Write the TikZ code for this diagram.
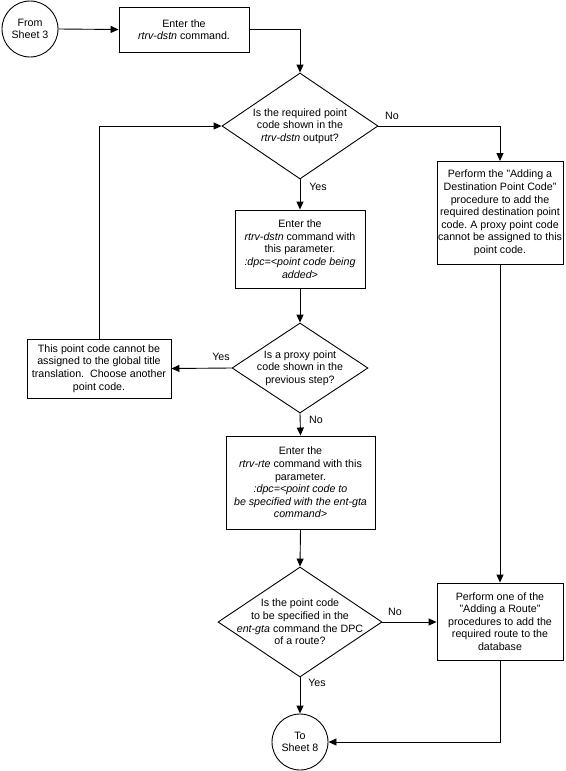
\documentclass[tikz,border=0pt]{standalone}
\usepackage{fontspec}
\setmainfont{Liberation Sans}
\usetikzlibrary{shapes.geometric,arrows.meta}
\frenchspacing
\begin{document}
\begin{tikzpicture}[x=1pt,y=-1pt,
  every node/.style={font=\fontsize{10.67}{12.6}\selectfont},
  box/.style={draw,line width=0.9pt,rectangle,align=center,inner sep=0pt},
  dia/.style={draw,line width=0.9pt,diamond,inner sep=0pt},
  txt/.style={align=center,inner sep=0pt},
  term/.style={draw,line width=0.9pt,circle,align=center,inner sep=0pt,minimum size=56pt},
  lbl/.style={inner sep=0pt},
  conn/.style={line width=0.9pt,-{Triangle[length=8pt,width=7pt]}},
  plain/.style={line width=0.9pt}]
\useasboundingbox (0,0) rectangle (565,771);

\node[term] (c1) at (30,29) {From\\Sheet 3};
\node[box,minimum width=130pt,minimum height=45pt] (b1) at (184,29.5) {Enter the\\\textit{rtrv-dstn} command.};

\node[dia,minimum width=156pt,minimum height=106pt] (d1) at (300,126) {};
\node[txt] (d1t) at (300,126) {Is the required point\\code shown in the\\\textit{rtrv-dstn} output?};

\node[box,minimum width=126pt,minimum height=103pt] (dR) at (500,213) {Perform the "Adding a\\Destination Point Code"\\procedure to add the\\required destination point\\code. A proxy point code\\cannot be assigned to this\\point code.};

\node[box,minimum width=130pt,minimum height=78pt] (b2) at (300,249) {Enter the\\\textit{rtrv-dstn} command with\\this parameter.\\\textit{:dpc=<point code being}\\\textit{added>}};

\node[dia,minimum width=136pt,minimum height=90pt] (d2) at (300,368) {};
\node[txt] (d2t) at (300,368) {Is a proxy point\\code shown in the\\previous step?};

\node[box,minimum width=144pt,minimum height=59pt] (b3) at (99,368.5) {This point code cannot be\\assigned to the global title\\translation.\ \ Choose another\\point code.};

\node[box,minimum width=149pt,minimum height=93pt] (b4) at (300.5,482.5) {Enter the\\\textit{rtrv-rte} command with this\\parameter.\\\textit{:dpc=<point code to}\\\textit{be specified with the ent-gta}\\\textit{command>}};

\node[dia,minimum width=164pt,minimum height=110pt] (d3) at (300,622) {};
\node[txt] (d3t) at (300,622) {Is the point code\\to be specified in the\\\textit{ent-gta} command the DPC\\of a route?};

\node[box,minimum width=126pt,minimum height=77pt] (b5) at (500,621.5) {Perform one of the\\"Adding a Route"\\procedures to add the\\required route to the\\database};

\node[term] (c2) at (300,742) {To\\Sheet 8};

% connectors
\draw[conn] (c1.east) -- (b1.west);
\draw[conn] (b1.east) -| (d1.north);
\draw[conn] (d1.east) -| (dR.north);
\draw[conn] (d1.south) -- (b2.north);
\draw[conn] (b2.south) -- (d2.north);
\draw[conn] (d2.west) -- (b3.east);
\draw[conn] (b3.north) |- (d1.west);
\draw[conn] (d2.south) -- (b4.north);
\draw[conn] (b4.south) -- (d3.north);
\draw[conn] (d3.east) -- (d3.east -| b5.west);
\draw[conn] (dR.south) -- (b5.north);
\draw[conn] (d3.south) -- (c2.north);
\draw[conn] (b5.south) |- (c2.east);

% labels
\node[lbl] (lno1) at (392,116) {No};
\node[lbl] (lyes1) at (318,187) {Yes};
\node[lbl] (lyes2) at (221,357) {Yes};
\node[lbl] (lno2) at (316,420) {No};
\node[lbl] (lno3) at (395,612) {No};
\node[lbl] (lyes3) at (317,683) {Yes};
\end{tikzpicture}
\end{document}
